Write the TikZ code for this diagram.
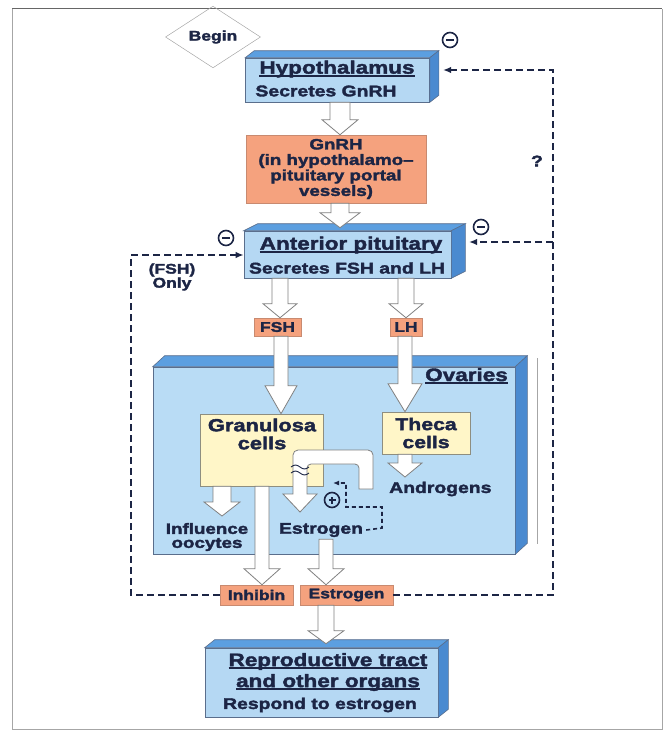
\documentclass[tikz,border=0pt]{standalone}
\usepackage{fontspec}
\newfontfamily\df[FakeStretch=1.25,BoldFeatures={FakeBold=2.2}]{Liberation Sans}
\usetikzlibrary{shapes.geometric,arrows.meta,calc}
\definecolor{txt}{HTML}{1C2545}
\definecolor{bfront}{HTML}{B5D8F3}
\definecolor{btop}{HTML}{5C9FE0}
\definecolor{bside}{HTML}{4A8AD0}
\definecolor{bline}{HTML}{5A6E8C}
\definecolor{ovfront}{HTML}{B9DCF5}
\definecolor{orng}{HTML}{F5A27E}
\definecolor{oline}{HTML}{C88A70}
\definecolor{ylw}{HTML}{FFF6C8}
\definecolor{yline}{HTML}{8E8E80}
\definecolor{agray}{HTML}{808080}
\newcommand\ul[1]{\setbox0\hbox{#1}\rlap{\rule[-3pt]{\wd0}{1.7pt}}\box0}
\tikzset{
  every node/.style={font=\df\bfseries\fontsize{15.5}{17}\selectfont, text=txt, inner sep=0pt},
  tbig/.style={font=\df\bfseries\fontsize{18}{20}\selectfont},
  tmid/.style={font=\df\bfseries\fontsize{15.5}{17}\selectfont},
  tgn/.style={font=\df\bfseries\fontsize{15}{15.5}\selectfont},
  tsml/.style={font=\df\bfseries\fontsize{14}{14}\selectfont},
  front/.style={draw=bline, fill=bfront, line width=0.6pt},
  topface/.style={draw=bline, fill=btop, line width=0.6pt},
  sideface/.style={draw=bline, fill=bside, line width=0.6pt},
  obox/.style={draw=oline, fill=orng, line width=0.5pt},
  ybox/.style={draw=yline, fill=ylw, line width=0.6pt},
  harrowst/.style={draw=agray, fill=white, line width=0.8pt},
  fb/.style={draw=txt, line width=2.2pt, dash pattern=on 7pt off 4pt},
  fbs/.style={draw=txt, line width=1.6pt, dash pattern=on 4pt off 3pt},
  sign/.style={circle, draw=txt, line width=1.6pt, minimum size=15pt, inner sep=0pt},
  tipA/.style={-{Latex[length=8pt,width=6.5pt]}},
}
\newcommand\boxfaces[3]{%
  \filldraw[topface] (#1.north west) -- ++(#2,-#3) -- ([shift={(#2,-#3)}]#1.north east) -- (#1.north east) -- cycle;
  \filldraw[sideface] (#1.north east) -- ++(#2,-#3) -- ([shift={(#2,-#3)}]#1.south east) -- (#1.south east) -- cycle;}
% #1 x, #2 from, #3 to, #4 half shaft, #5 half head, #6 head length
\newcommand\harrow[6]{%
  \draw[harrowst] let \p1=#2, \p2=#3 in
  (#1pt-#4pt,\y1) -- (#1pt-#4pt,\y2+#6pt) -- (#1pt-#5pt,\y2+#6pt) -- (#1pt,\y2)
  -- (#1pt+#5pt,\y2+#6pt) -- (#1pt+#4pt,\y2+#6pt) -- (#1pt+#4pt,\y1) -- cycle;}
\begin{document}
\begin{tikzpicture}[x=1pt,y=-1pt]
\useasboundingbox (0,0) rectangle (664,732);
% frame
\draw[gray!80!black, line width=1.2pt] (12,8.5) -- (662,8.5);
\draw[gray!70, line width=0.8pt] (12,8.5) -- (12,729) -- (662,729) -- (662,8.5);

% begin
\node[diamond, draw=gray!70, line width=0.5pt, minimum width=95pt, minimum height=30pt, tsml] (begin) at (213,37) {Begin};

% ovaries
\node[front, fill=ovfront, minimum width=362pt, minimum height=187pt] (ov) at (334,460.5) {};
\boxfaces{ov}{12}{11}
\draw[gray!70, line width=0.6pt] (537,358) -- (537,544);

% hypothalamus
\node[front, minimum width=184pt, minimum height=44pt] (hyp) at (337.5,80) {};
\boxfaces{hyp}{9}{7}

% GnRH
\node[obox, minimum width=180pt, minimum height=68pt, tgn, align=center] (gnrh) at (336,169)
  {GnRH\\(in hypothalamo–\\pituitary portal\\vessels)};

% anterior pituitary
\node[front, minimum width=207pt, minimum height=47pt] (ap) at (347.5,254.5) {};
\boxfaces{ap}{14}{7}

% FSH LH
\node[obox, minimum width=47pt, minimum height=18pt, tsml] (fsh) at (277.5,327) {FSH};
\node[obox, minimum width=32pt, minimum height=18pt, tsml] (lh) at (406,327) {LH};

% granulosa / theca
\node[ybox, minimum width=123pt, minimum height=72pt] (gran) at (261.5,450) {};
\node[ybox, minimum width=88pt, minimum height=42pt, align=center, font=\df\bfseries\fontsize{17}{18}\selectfont] (theca) at (426,433) {Theca\\cells};

% inhibin / estrogen boxes
\node[obox, minimum width=73pt, minimum height=20pt, tsml] (inh) at (256.5,595) {Inhibin};
\node[obox, minimum width=93pt, minimum height=20pt, tsml] (estb) at (346.5,595) {Estrogen};

% reproductive
\node[front, minimum width=233pt, minimum height=69pt] (rep) at (321.5,682.5) {};
\boxfaces{rep}{10}{8}

% texts
\node[tbig] (hypt) at (337,69) {\ul{Hypothalamus}};
\node[tmid] (hyps) at (326,91) {Secretes GnRH};
\node[tbig] (apt) at (351,245) {\ul{Anterior pituitary}};
\node[tmid] (aps) at (347,268) {Secretes FSH and LH};
\node[tbig, anchor=east] (ovl) at (508,376) {\ul{Ovaries}};
\node[align=center, font=\df\bfseries\fontsize{17.5}{18}\selectfont] (grant) at (262,434) {Granulosa\\cells};
\node[tmid, anchor=west] (andr) at (389,489) {Androgens};
\node[align=center, font=\df\bfseries\fontsize{15}{14}\selectfont] (infl) at (207,537) {Influence\\oocytes};
\node[tmid] (estin) at (321,530) {Estrogen};
\node[tbig, align=center] (rept) at (328,672) {\ul{Reproductive tract}\\[1pt]\ul{and other organs}};
\node[tmid] (reps) at (320,705) {Respond to estrogen};

% hollow arrows
\harrow{340}{(hyp.south)}{(gnrh.north)}{10}{18}{15}
\harrow{340}{(gnrh.south)}{([yshift=3pt]ap.north)}{9}{20}{15}
\harrow{280}{(ap.south)}{(fsh.north)}{8}{17}{14}
\harrow{406}{(ap.south)}{(lh.north)}{8}{17}{14}
\harrow{281}{(fsh.south)}{(gran.north)}{7}{16}{28}
\harrow{405}{(lh.south)}{(theca.north)}{7}{17}{28}
\coordinate (andtip) at (405,477);
\harrow{405}{(theca.south)}{(andtip)}{7}{17}{14}
\coordinate (ooctip) at (222,516);
\harrow{222}{(gran.south)}{(ooctip)}{9}{18}{14}
\harrow{262}{(gran.south)}{(inh.north)}{7}{18}{16}
\harrow{326}{([yshift=-2pt]estin.south)}{(estb.north)}{7}{18}{16}
\harrow{326}{(estb.south)}{([yshift=4pt]rep.north)}{8}{18}{13}

% androgen pipe into granulosa -> estrogen
\draw[harrowst] (359,489) [rounded corners=4pt] -- (359,464) -- (307,464) [sharp corners] -- (307,494) -- (317,494) -- (300,512) -- (283,494) -- (293,494) [rounded corners=5pt] -- (293,450) -- (373,450) [sharp corners] -- (373,489) -- cycle;
\draw[txt, line width=0.9pt] (291,467) sin (295.5,465) cos (300,467) sin (304.5,469) cos (309,467);
\draw[txt, line width=0.9pt] (291,473) sin (295.5,471) cos (300,473) sin (304.5,475) cos (309,473);

% plus sign and local feedback
\node[sign] (plus) at (332,500) {\makebox[0pt]{\rule{7pt}{1.6pt}}\makebox[0pt]{\rule[-2.7pt]{1.6pt}{7pt}}};
\coordinate (lf1) at (382,528);
\coordinate (lf2) at (382,507);
\coordinate (lf3) at (346,507);
\coordinate (lf4) at (346,483);
\coordinate (lf5) at (333,483);
\draw[fbs, -{Latex[length=6pt,width=5pt]}] ([xshift=3pt]estin.east) -- (lf1) -- (lf2) -- (lf3) -- (lf4) -- (lf5);

% minus signs
\node[sign] (m1) at (450,40) {\rule{8pt}{1.8pt}};
\node[sign] (m2) at (226,238) {\rule{8pt}{1.8pt}};
\node[sign] (m3) at (481,227) {\rule{8pt}{1.8pt}};

% long feedback loops
\coordinate (r1) at (553,595);
\coordinate (r2) at (553,70);
\coordinate (r3) at (553,242);
\coordinate (hypin) at (443,70);
\coordinate (apin) at (469,242);
\draw[fb, tipA] (estb.east) -- (r1) -- (r2) -- (hypin);
\draw[fb, tipA] (r3) -- (apin);
\coordinate (l1) at (131,595);
\coordinate (l2) at (131,255);
\draw[fb, tipA] (inh.west) -- (l1) -- (l2) -- (ap.west |- l2);

\node[tsml, align=center] (fshonly) at (172,277) {(FSH)\\Only};
\node[tmid] (q) at (537,161) {?};
\end{tikzpicture}
\end{document}
